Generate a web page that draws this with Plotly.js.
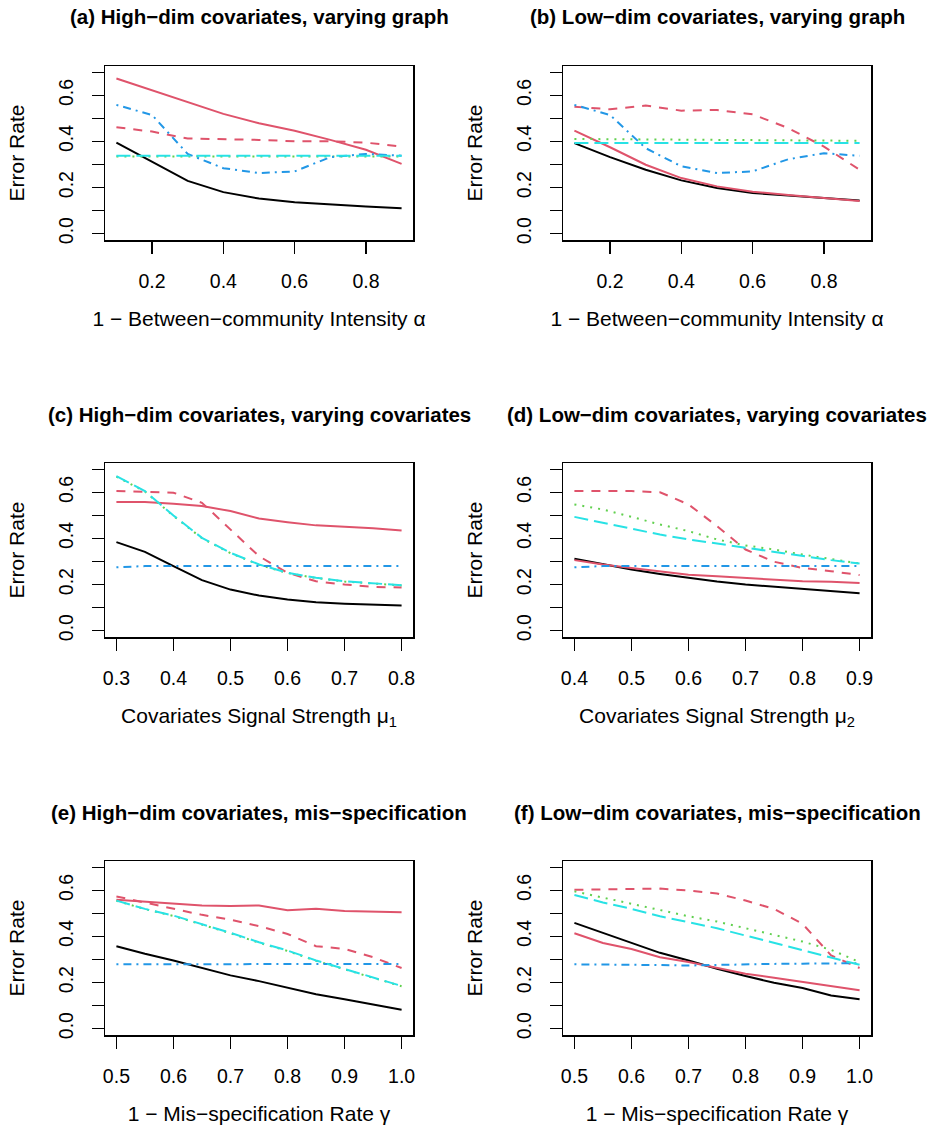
<!DOCTYPE html>
<html>
<head>
<meta charset="utf-8">
<script src="https://cdn.plot.ly/plotly-3.0.1.min.js"></script>
<style>html,body{margin:0;padding:0;background:#fff;}#plot{width:927px;height:1130px;}</style>
</head>
<body>
<div id="plot"></div>
<script>
// ---------- data ----------
const xA = [0.1, 0.2, 0.3, 0.4, 0.5, 0.6, 0.7, 0.8, 0.9];
const xC = [0.30, 0.35, 0.40, 0.45, 0.50, 0.55, 0.60, 0.65, 0.70, 0.75, 0.80];
const xD = [0.40, 0.45, 0.50, 0.55, 0.60, 0.65, 0.70, 0.75, 0.80, 0.85, 0.90];
const xE = [0.50, 0.55, 0.60, 0.65, 0.70, 0.75, 0.80, 0.85, 0.90, 0.95, 1.00];

// panel (a)
const a_black   = [0.395, 0.313, 0.229, 0.180, 0.152, 0.136, 0.126, 0.118, 0.110];
const a_red     = [0.674, 0.623, 0.570, 0.520, 0.479, 0.447, 0.407, 0.364, 0.303];
const a_redDash = [0.462, 0.443, 0.413, 0.411, 0.407, 0.401, 0.401, 0.395, 0.378];
const a_green   = [0.335, 0.335, 0.335, 0.335, 0.335, 0.335, 0.335, 0.335, 0.335];
const a_blue    = [0.559, 0.515, 0.346, 0.284, 0.263, 0.270, 0.332, 0.346, 0.338];
const a_cyan    = [0.338, 0.338, 0.338, 0.338, 0.338, 0.338, 0.338, 0.338, 0.338];
// panel (b)
const b_black   = [0.393, 0.332, 0.277, 0.231, 0.198, 0.176, 0.165, 0.154, 0.144];
const b_red     = [0.447, 0.375, 0.299, 0.241, 0.205, 0.182, 0.167, 0.154, 0.141];
const b_redDash = [0.551, 0.540, 0.556, 0.534, 0.537, 0.518, 0.458, 0.378, 0.277];
const b_green   = [0.411, 0.410, 0.409, 0.408, 0.407, 0.406, 0.405, 0.404, 0.403];
const b_blue    = [0.559, 0.515, 0.371, 0.292, 0.263, 0.270, 0.323, 0.349, 0.338];
const b_cyan    = [0.393, 0.393, 0.393, 0.393, 0.393, 0.393, 0.393, 0.393, 0.393];
// panel (c)
const c_black   = [0.384, 0.342, 0.280, 0.219, 0.178, 0.152, 0.135, 0.123, 0.117, 0.112, 0.109];
const c_red     = [0.559, 0.559, 0.551, 0.541, 0.519, 0.487, 0.471, 0.457, 0.451, 0.445, 0.435];
const c_redDash = [0.606, 0.604, 0.599, 0.555, 0.439, 0.323, 0.251, 0.214, 0.200, 0.190, 0.187];
const c_green   = [0.669, 0.604, 0.498, 0.401, 0.336, 0.286, 0.250, 0.228, 0.213, 0.203, 0.196];
const c_blue    = [0.275, 0.280, 0.280, 0.280, 0.280, 0.280, 0.280, 0.280, 0.280, 0.280, 0.280];
const c_cyan    = [0.671, 0.606, 0.500, 0.403, 0.338, 0.287, 0.251, 0.229, 0.214, 0.204, 0.197];
// panel (d)
const d_black   = [0.312, 0.287, 0.265, 0.246, 0.229, 0.213, 0.200, 0.190, 0.180, 0.170, 0.162];
const d_red     = [0.306, 0.287, 0.272, 0.258, 0.243, 0.236, 0.228, 0.220, 0.214, 0.212, 0.207];
const d_redDash = [0.606, 0.606, 0.606, 0.601, 0.548, 0.454, 0.352, 0.299, 0.272, 0.258, 0.241];
const d_green   = [0.548, 0.526, 0.494, 0.461, 0.432, 0.396, 0.370, 0.352, 0.330, 0.312, 0.291];
const d_blue    = [0.275, 0.280, 0.280, 0.280, 0.280, 0.280, 0.280, 0.280, 0.280, 0.280, 0.280];
const d_cyan    = [0.494, 0.468, 0.442, 0.417, 0.396, 0.378, 0.359, 0.341, 0.323, 0.306, 0.291];
// panel (e)
const e_black   = [0.358, 0.325, 0.296, 0.263, 0.231, 0.206, 0.179, 0.149, 0.127, 0.105, 0.082];
const e_red     = [0.560, 0.551, 0.543, 0.535, 0.533, 0.535, 0.514, 0.521, 0.511, 0.509, 0.505];
const e_redDash = [0.574, 0.548, 0.520, 0.494, 0.473, 0.445, 0.411, 0.358, 0.346, 0.310, 0.263];
const e_green   = [0.555, 0.519, 0.489, 0.453, 0.414, 0.373, 0.337, 0.294, 0.258, 0.222, 0.184];
const e_blue    = [0.279, 0.279, 0.279, 0.279, 0.279, 0.279, 0.280, 0.280, 0.281, 0.281, 0.281];
const e_cyan    = [0.556, 0.520, 0.491, 0.455, 0.416, 0.375, 0.339, 0.296, 0.260, 0.224, 0.185];
// panel (f)
const f_black   = [0.459, 0.416, 0.372, 0.329, 0.296, 0.260, 0.228, 0.199, 0.176, 0.144, 0.127];
const f_red     = [0.414, 0.372, 0.346, 0.310, 0.289, 0.263, 0.238, 0.221, 0.202, 0.183, 0.166];
const f_redDash = [0.603, 0.604, 0.606, 0.608, 0.600, 0.587, 0.556, 0.520, 0.455, 0.318, 0.263];
const f_green   = [0.596, 0.570, 0.544, 0.515, 0.488, 0.465, 0.436, 0.408, 0.378, 0.342, 0.289];
const f_blue    = [0.279, 0.279, 0.278, 0.276, 0.274, 0.277, 0.280, 0.281, 0.282, 0.283, 0.284];
const f_cyan    = [0.580, 0.548, 0.520, 0.488, 0.462, 0.436, 0.404, 0.372, 0.339, 0.306, 0.277];

// tick labels
const yTickVals  = [0, 0.2, 0.4, 0.6];
const yTickText  = ['0.0', '0.2', '0.4', '0.6'];
const yMinorVals = [0.1, 0.3, 0.5, 0.7];
const xTicksAB = [0.2, 0.4, 0.6, 0.8];
const xTicksC  = [0.3, 0.4, 0.5, 0.6, 0.7, 0.8];
const xTicksD  = [0.4, 0.5, 0.6, 0.7, 0.8, 0.9];
const xTicksEF = [0.5, 0.6, 0.7, 0.8, 0.9, 1.0];

const titles = [
  '(a) High\u2212dim covariates, varying graph',
  '(b) Low\u2212dim covariates, varying graph',
  '(c) High\u2212dim covariates, varying covariates',
  '(d) Low\u2212dim covariates, varying covariates',
  '(e) High\u2212dim covariates, mis\u2212specification',
  '(f) Low\u2212dim covariates, mis\u2212specification'
];
const xLabels = [
  '1 \u2212 Between\u2212community Intensity \u03b1',
  '1 \u2212 Between\u2212community Intensity \u03b1',
  'Covariates Signal Strength \u03bc<sub>1</sub>',
  'Covariates Signal Strength \u03bc<sub>2</sub>',
  '1 \u2212 Mis\u2212specification Rate \u03b3',
  '1 \u2212 Mis\u2212specification Rate \u03b3'
];
const yLabel = 'Error Rate';

// ---------- build ----------
const W = 927, H = 1130;
const colsPx = [[105, 413], [563, 871]];
const rowsPx = [[66, 240], [463, 637], [861, 1035]];

const panels = [
  {x: xA, s: [a_black, a_red, a_redDash, a_green, a_blue, a_cyan], ticks: xTicksAB},
  {x: xA, s: [b_black, b_red, b_redDash, b_green, b_blue, b_cyan], ticks: xTicksAB},
  {x: xC, s: [c_black, c_red, c_redDash, c_green, c_blue, c_cyan], ticks: xTicksC},
  {x: xD, s: [d_black, d_red, d_redDash, d_green, d_blue, d_cyan], ticks: xTicksD},
  {x: xE, s: [e_black, e_red, e_redDash, e_green, e_blue, e_cyan], ticks: xTicksEF},
  {x: xE, s: [f_black, f_red, f_redDash, f_green, f_blue, f_cyan], ticks: xTicksEF}
];

const styles = [
  {color: '#000000', dash: 'solid'},
  {color: '#DF536B', dash: 'solid'},
  {color: '#DF536B', dash: '9px,8px'},
  {color: '#61D04F', dash: '2px,6px'},
  {color: '#2297E6', dash: '2px,5px,8px,5px'},
  {color: '#28E2E5', dash: '14px,6px'}
];

const FONT = 'Liberation Sans, Arial, Helvetica, sans-serif';
const TICK_SIZE = 19.5, LAB_SIZE = 21, MAIN_SIZE = 20.5;
const traces = [];
const layout = {
  width: W, height: H,
  margin: {l: 0, r: 0, t: 0, b: 0},
  paper_bgcolor: '#ffffff', plot_bgcolor: '#ffffff',
  showlegend: false,
  font: {family: FONT, size: 18, color: '#000'},
  annotations: []
};

panels.forEach((p, i) => {
  const r = Math.floor(i / 2), c = i % 2;
  const n = i + 1;
  const xa = n === 1 ? 'x' : 'x' + n;
  const ya = n === 1 ? 'y' : 'y' + n;
  p.s.forEach((ys, k) => {
    traces.push({
      type: 'scatter', mode: 'lines', x: p.x, y: ys,
      xaxis: xa, yaxis: ya,
      line: {color: styles[k].color, dash: styles[k].dash, width: 2},
      hoverinfo: 'skip'
    });
  });
  const xmin = p.x[0], xmax = p.x[p.x.length - 1];
  const pad = (xmax - xmin) * 0.04;
  const dx = [colsPx[c][0] / W, colsPx[c][1] / W];
  const dy = [1 - rowsPx[r][1] / H, 1 - rowsPx[r][0] / H];
  layout['xaxis' + (n === 1 ? '' : n)] = {
    domain: dx, anchor: ya, range: [xmin - pad, xmax + pad],
    tickmode: 'array', tickvals: p.ticks, ticktext: p.ticks.map(v => v.toFixed(1)),
    ticks: 'outside', ticklen: 12, tickwidth: 1.5, tickcolor: '#000',
    ticklabelstandoff: 11,
    showline: true, mirror: true, linecolor: '#000', linewidth: 1.5,
    showgrid: false, zeroline: false, fixedrange: true,
    tickfont: {size: TICK_SIZE, family: FONT, color: '#000'},
    title: {text: xLabels[i], font: {size: LAB_SIZE, family: FONT, color: '#000'}, standoff: 20}
  };
  layout['yaxis' + (n === 1 ? '' : n)] = {
    domain: dy, anchor: xa, range: [-0.028, 0.728],
    tickmode: 'array', tickvals: yTickVals, ticktext: yTickText,
    minor: {tickmode: 'array', tickvals: yMinorVals, ticks: 'outside', ticklen: 12, tickwidth: 1.5, tickcolor: '#000', showgrid: false},
    tickangle: -90,
    ticks: 'outside', ticklen: 12, tickwidth: 1.5, tickcolor: '#000',
    ticklabelstandoff: 11,
    showline: true, mirror: true, linecolor: '#000', linewidth: 1.5,
    showgrid: false, zeroline: false, fixedrange: true,
    tickfont: {size: TICK_SIZE, family: FONT, color: '#000'},
    title: {text: yLabel, font: {size: LAB_SIZE, family: FONT, color: '#000'}, standoff: 24}
  };
  layout.annotations.push({
    xref: 'paper', yref: 'paper',
    x: (colsPx[c][0] + colsPx[c][1]) / 2 / W,
    y: 1 - (rowsPx[r][0] - 49) / H,
    xanchor: 'center', yanchor: 'middle', showarrow: false,
    text: '<b>' + titles[i] + '</b>',
    font: {size: MAIN_SIZE, family: FONT, color: '#000'}
  });
});

Plotly.newPlot('plot', traces, layout, {staticPlot: true, displayModeBar: false});
</script>
</body>
</html>
